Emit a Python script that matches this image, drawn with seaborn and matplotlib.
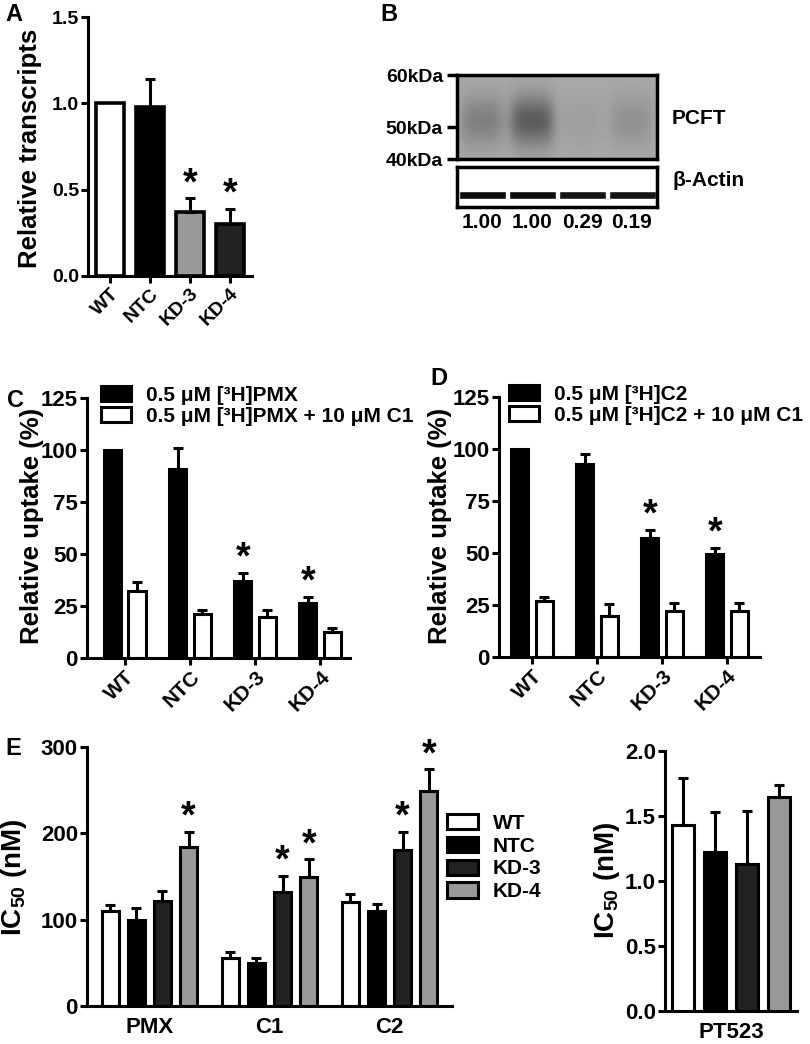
import numpy as np
import pandas as pd
import matplotlib.pyplot as plt
import seaborn as sns

# ---------------- data ----------------
lines = ['WT', 'NTC', 'KD-3', 'KD-4']

# A: relative PCFT transcripts
transcripts = [1.00, 0.98, 0.37, 0.30]
transcripts_err = [0.00, 0.16, 0.08, 0.09]
transcripts_sig = [False, False, True, True]

band_ratio = [1.00, 1.00, 0.29, 0.19]
pcft_darkness = [0.16, 0.30, 0.04, 0.09]
actin_darkness = [0.95, 0.95, 0.92, 0.92]
kda_labels = ['60kDa', '50kDa', '40kDa']
kda_rf = [0.0, 0.62, 1.0]

# C: [3H]PMX uptake
pmx = [100, 91, 37, 26.5]
pmx_err = [0, 10, 4, 3]
pmx_c1 = [32, 21, 19.5, 12.5]
pmx_c1_err = [4.5, 2, 3.5, 2]
pmx_sig = [False, False, True, True]

# D: [3H]C2 uptake
c2 = [100, 93, 57, 49.5]
c2_err = [0, 4.5, 4, 3]
c2_c1 = [27, 19.5, 22, 22]
c2_c1_err = [2, 6, 4, 4]
c2_sig = [False, False, True, True]

# E: IC50 values
drugs = ['PMX', 'C1', 'C2']
ic50_wt = [110, 56, 120]
ic50_ntc = [100, 50, 110]
ic50_kd3 = [122, 132, 181]
ic50_kd4 = [184, 150, 249]
ic50_wt_err = [7, 6, 10]
ic50_ntc_err = [13, 6, 8]
ic50_kd3_err = [11, 19, 21]
ic50_kd4_err = [18, 20, 25]
ic50_kd3_sig = [False, True, True]
ic50_kd4_sig = [True, True, True]

pt523 = [1.43, 1.22, 1.13, 1.65]
pt523_err = [0.36, 0.31, 0.41, 0.09]

colors_a = ['white', 'black', '#999999', '#222222']
colors_e = ['white', 'black', '#222222', '#999999']

# ---------------- style ----------------
sns.set_style('ticks', {'axes.edgecolor': 'black', 'xtick.color': 'black',
                        'ytick.color': 'black', 'text.color': 'black',
                        'axes.labelcolor': 'black'})
plt.rcParams['font.family'] = ['Liberation Sans', 'DejaVu Sans']
plt.rcParams['font.weight'] = 'bold'
plt.rcParams['mathtext.fontset'] = 'custom'
plt.rcParams['mathtext.rm'] = 'Liberation Sans:bold'
plt.rcParams['mathtext.bf'] = 'Liberation Sans:bold'

W, H = 810, 1044
fig = plt.figure(figsize=(8.1, 10.44), dpi=100)


def add_ax(l, t, r, b):
    return fig.add_axes([l / W, 1 - b / H, (r - l) / W, (b - t) / H])


def fig_text(x, y, s, **kw):
    return fig.text(x / W, 1 - y / H, s, **kw)


def style_axis(ax, ymax, step, fmt, size=16):
    ax.set_ylim(0, ymax)
    ticks = np.arange(0, ymax + step / 2, step)
    ax.set_yticks(ticks)
    ax.set_yticklabels([fmt.format(t) for t in ticks], fontsize=size, fontweight='bold')
    sns.despine(ax=ax)
    for s in ['left', 'bottom']:
        ax.spines[s].set_linewidth(2.2)
    ax.tick_params(width=2.2, length=5, pad=1.5)
    ax.set_xlabel('')
    ax.set_ylabel('')


def add_errors(ax, patches, vals, errs, sig, lw=2.2):
    for p, v, e, s in zip(patches, vals, errs, sig):
        xc = p.get_x() + p.get_width() / 2
        if e > 0:
            ax.errorbar(xc, v, yerr=[[0], [e]], fmt='none', ecolor='black',
                        elinewidth=lw, capsize=3.5, capthick=lw, zorder=3)
        if s:
            ax.annotate('*', (xc, v + e), xytext=(0, 3), textcoords='offset points',
                        ha='center', va='baseline', fontsize=27, fontweight='bold')


def rot_labels(ax, size):
    ax.set_xticks(range(len(lines)))
    ax.set_xticklabels(lines, rotation=45, ha='right', rotation_mode='anchor',
                       fontsize=size, fontweight='bold')


# ---------------- A ----------------
axA = add_ax(88, 17, 252, 276)
sns.barplot(x=lines, y=transcripts, hue=lines, palette=colors_a, edgecolor='black',
            linewidth=2.6, width=0.68, legend=False, ax=axA)
axA.set_xlim(-0.55, 3.55)
style_axis(axA, 1.5, 0.5, '{:.1f}', size=14)
patchesA = [p for c in axA.containers for p in c]
add_errors(axA, patchesA, transcripts, transcripts_err, transcripts_sig)
rot_labels(axA, 14)
fig_text(30, 148, 'Relative transcripts', rotation=90, ha='center', va='center',
         fontsize=18.5, fontweight='bold')
fig_text(5, 21, 'A', fontsize=17, fontweight='bold')

# ---------------- B ----------------
axB = add_ax(457, 75, 657, 159)
xs = np.linspace(-0.5, 3.5, 200)
ys = np.linspace(0, 1, 85)
X, Y = np.meshgrid(xs, ys)
img = np.full_like(X, 0.66)
for i, d in enumerate(pcft_darkness):
    img -= d * np.exp(-((X - i) / 0.45) ** 4 - ((Y - 0.55) / 0.3) ** 2)
axB.imshow(img, cmap='gray', vmin=0, vmax=1, extent=(-0.5, 3.5, 1, 0), aspect='auto')
axB.set_xlim(-0.5, 3.5)
axB.set_ylim(1, 0)
axB.set_xticks([])
axB.set_yticks(kda_rf)
axB.set_yticklabels(kda_labels, fontsize=14, fontweight='bold')
axB.tick_params(axis='y', width=2.5, length=7, pad=3)
for s in axB.spines.values():
    s.set_linewidth(2.5)

axAct = add_ax(457, 167, 657, 207)
axAct.bar(range(len(lines)), 0.2, bottom=0.6, width=0.94,
          color=[str(1 - d) for d in actin_darkness])
axAct.set_xlim(-0.5, 3.5)
axAct.set_ylim(1, 0)
axAct.set_yticks([])
axAct.set_xticks(range(len(lines)))
axAct.set_xticklabels(['{:.2f}'.format(v) for v in band_ratio], fontsize=15, fontweight='bold')
axAct.tick_params(axis='x', length=0, pad=4)
for s in axAct.spines.values():
    s.set_linewidth(2.5)
fig_text(672, 118, 'PCFT', va='center', fontsize=15, fontweight='bold')
fig_text(672, 181, 'β-Actin', va='center', fontsize=15, fontweight='bold')
fig_text(380, 21, 'B', fontsize=17, fontweight='bold')


# ---------------- C & D ----------------
def uptake_panel(box, vals, errs, vals2, errs2, sig, lab1, lab2, leg_xy, letter_xy, letter, ylab_x):
    ax = add_ax(*box)
    df = pd.DataFrame({'line': lines * 2,
                       'cond': [lab1] * 4 + [lab2] * 4,
                       'value': vals + vals2})
    sns.barplot(data=df, x='line', y='value', hue='cond', palette=['black', 'white'],
                edgecolor='black', linewidth=2.2, width=0.75, gap=0.3, ax=ax)
    handles, labels = ax.get_legend_handles_labels()
    ax.get_legend().remove()
    add_errors(ax, list(ax.containers[0]), vals, errs, sig)
    add_errors(ax, list(ax.containers[1]), vals2, errs2, [False] * 4)
    style_axis(ax, 125, 25, '{:.0f}', size=16)
    rot_labels(ax, 15)
    fig.legend(handles, labels, loc='upper left', bbox_to_anchor=(leg_xy[0] / W, 1 - leg_xy[1] / H),
               frameon=False, borderpad=0, borderaxespad=0, handlelength=1.45, handleheight=0.75,
               handletextpad=0.7, labelspacing=0.1,
               prop={'size': 15, 'weight': 'bold'})
    fig_text(ylab_x, 526, 'Relative uptake (%)', rotation=90, ha='center', va='center',
             fontsize=18.5, fontweight='bold')
    fig_text(letter_xy[0], letter_xy[1], letter, fontsize=17, fontweight='bold')
    return ax


axC = uptake_panel((87, 398, 350, 658), pmx, pmx_err, pmx_c1, pmx_c1_err, pmx_sig,
                   '0.5 μM [³H]PMX', '0.5 μM [³H]PMX + 10 μM C1',
                   (101, 386), (7, 407), 'C', 32)
axC.set_xlim(-0.58, 3.46)
axD = uptake_panel((499, 397, 760, 657), c2, c2_err, c2_c1, c2_c1_err, c2_sig,
                   '0.5 μM [³H]C2', '0.5 μM [³H]C2 + 10 μM C1',
                   (509, 385), (430, 385), 'D', 440)
axD.set_xlim(-0.51, 3.51)

# ---------------- E ----------------
axE = add_ax(87, 747, 452, 1006)
dfE = pd.DataFrame({'drug': drugs * 4,
                    'line': np.repeat(lines, len(drugs)),
                    'value': ic50_wt + ic50_ntc + ic50_kd3 + ic50_kd4})
sns.barplot(data=dfE, x='drug', y='value', hue='line', palette=colors_e, edgecolor='black',
            linewidth=2.2, width=0.87, gap=0.35, ax=axE)
handlesE, labelsE = axE.get_legend_handles_labels()
axE.get_legend().remove()
errsE = [ic50_wt_err, ic50_ntc_err, ic50_kd3_err, ic50_kd4_err]
valsE = [ic50_wt, ic50_ntc, ic50_kd3, ic50_kd4]
sigE = [[False] * 3, [False] * 3, ic50_kd3_sig, ic50_kd4_sig]
for cont, v, e, s in zip(axE.containers, valsE, errsE, sigE):
    add_errors(axE, list(cont), v, e, s)
style_axis(axE, 300, 100, '{:.0f}', size=16)
axE.set_xlim(-0.52, 2.52)
axE.tick_params(axis='x', length=0, pad=8, labelsize=16)
fig.legend(handlesE, labelsE, loc='upper left', bbox_to_anchor=(447 / W, 1 - 814 / H),
           frameon=False, borderpad=0, borderaxespad=0, handlelength=1.5, handleheight=0.75,
           handletextpad=0.7, labelspacing=0.18, prop={'size': 15, 'weight': 'bold'})
fig_text(14, 877, 'IC$_{\\mathbf{50}}$ (nM)', rotation=90, ha='center', va='center',
         fontsize=20, fontweight='bold')
fig_text(5, 755, 'E', fontsize=17, fontweight='bold')

axP = add_ax(665, 751, 797, 1011)
dfP = pd.DataFrame({'drug': ['PT523'] * 4, 'line': lines, 'value': pt523})
sns.barplot(data=dfP, x='drug', y='value', hue='line', palette=colors_e, edgecolor='black',
            linewidth=2.2, width=0.97, gap=0.3, legend=False, ax=axP)
for cont, v, e in zip(axP.containers, pt523, pt523_err):
    add_errors(axP, list(cont), [v], [e], [False])
style_axis(axP, 2.0, 0.5, '{:.1f}', size=16)
axP.set_xlim(-0.5, 0.5)
axP.tick_params(axis='x', length=0, pad=8, labelsize=16)
fig_text(607, 880, 'IC$_{\\mathbf{50}}$ (nM)', rotation=90, ha='center', va='center',
         fontsize=20, fontweight='bold')

fig.savefig('out.png', dpi=100)
